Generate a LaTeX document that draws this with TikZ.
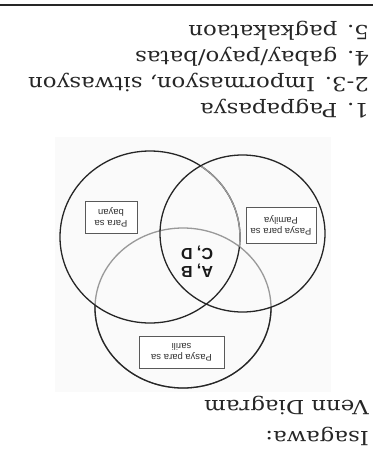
\documentclass[tikz,border=0pt]{standalone}
\usepackage{fontspec}
\setmainfont{DejaVu Serif}[FakeStretch=1.17]
\setsansfont{Liberation Sans}
\begin{document}
\begin{tikzpicture}[x=1pt,y=-1pt,
  heading/.style={rotate=180, anchor=base west, inner sep=0pt, font=\fontsize{19.5}{24}\selectfont, text=black!85},
  labelbox/.style={rotate=180, draw=black!65, fill=white, line width=0.8pt, inner sep=0pt, align=center, font=\sffamily\fontsize{9.5}{11}\selectfont, text=black!80},
  dark/.style={draw=black!85, line width=1.3pt},
  lite/.style={draw=black!40, line width=1.3pt},
]
\useasboundingbox (0,0) rectangle (377,461);
\fill[white] (0,0) rectangle (377,461);
% top rule
\coordinate (ruleL) at (0,5);
\coordinate (ruleR) at (373,5);
\draw[line width=1.5pt, black!85] (ruleL) -- (ruleR);
% headings (upside down)
\node[heading] (t5) at (369,25) {5. pagkakataon};
\node[heading] (t4) at (369,51) {4. gabay/payo/batas};
\node[heading] (t23) at (369,77.5) {2-3. Impormasyon, sitwasyon};
\node[heading] (t1) at (369,103) {1. Pagpapasya};
\node[heading] (tv) at (369,400) {Venn Diagram};
\node[heading] (ti) at (369,431) {Isagawa:};
% venn picture background
\fill[black!2] (55,137) rectangle (331,392);
% bottom circle: light everywhere, dark outside the two upper circles
\draw[lite] (183,308) ellipse [x radius=88pt, y radius=80pt];
\begin{scope}[even odd rule]
  \clip (-10,-10) rectangle (400,480) (150,237) ellipse [x radius=90pt, y radius=86pt];
  \begin{scope}[even odd rule]
    \clip (-10,-10) rectangle (400,480) (242.5,233.5) ellipse [x radius=82.5pt, y radius=78.5pt];
    \draw[dark] (183,308) ellipse [x radius=88pt, y radius=80pt];
  \end{scope}
\end{scope}
% left circle: dark, light inside right circle above bottom circle
\draw[dark] (150,237) ellipse [x radius=90pt, y radius=86pt];
\begin{scope}
  \clip (242.5,233.5) ellipse [x radius=82.5pt, y radius=78.5pt];
  \begin{scope}[even odd rule]
    \clip (-10,-10) rectangle (400,480) (183,308) ellipse [x radius=88pt, y radius=80pt];
    \draw[lite] (150,237) ellipse [x radius=90pt, y radius=86pt];
  \end{scope}
\end{scope}
% right circle
\draw[dark] (242.5,233.5) ellipse [x radius=82.5pt, y radius=78.5pt];
% labels
\node[labelbox, minimum width=52pt, minimum height=32pt] (bayan) at (111,217) {Para sa\\bayan};
\node[labelbox, minimum width=70pt, minimum height=36pt] (pamilya) at (281,225) {Pasya para sa\\Pamilya};
\node[labelbox, minimum width=85pt, minimum height=32pt] (sarili) at (181.5,352) {Pasya para sa\\sarili};
\node[rotate=180, align=center, inner sep=0pt, text=black!90, font=\sffamily\bfseries\fontsize{16}{18}\selectfont] (abcd) at (197,262) {A, B\\C, D};
\end{tikzpicture}
\end{document}
